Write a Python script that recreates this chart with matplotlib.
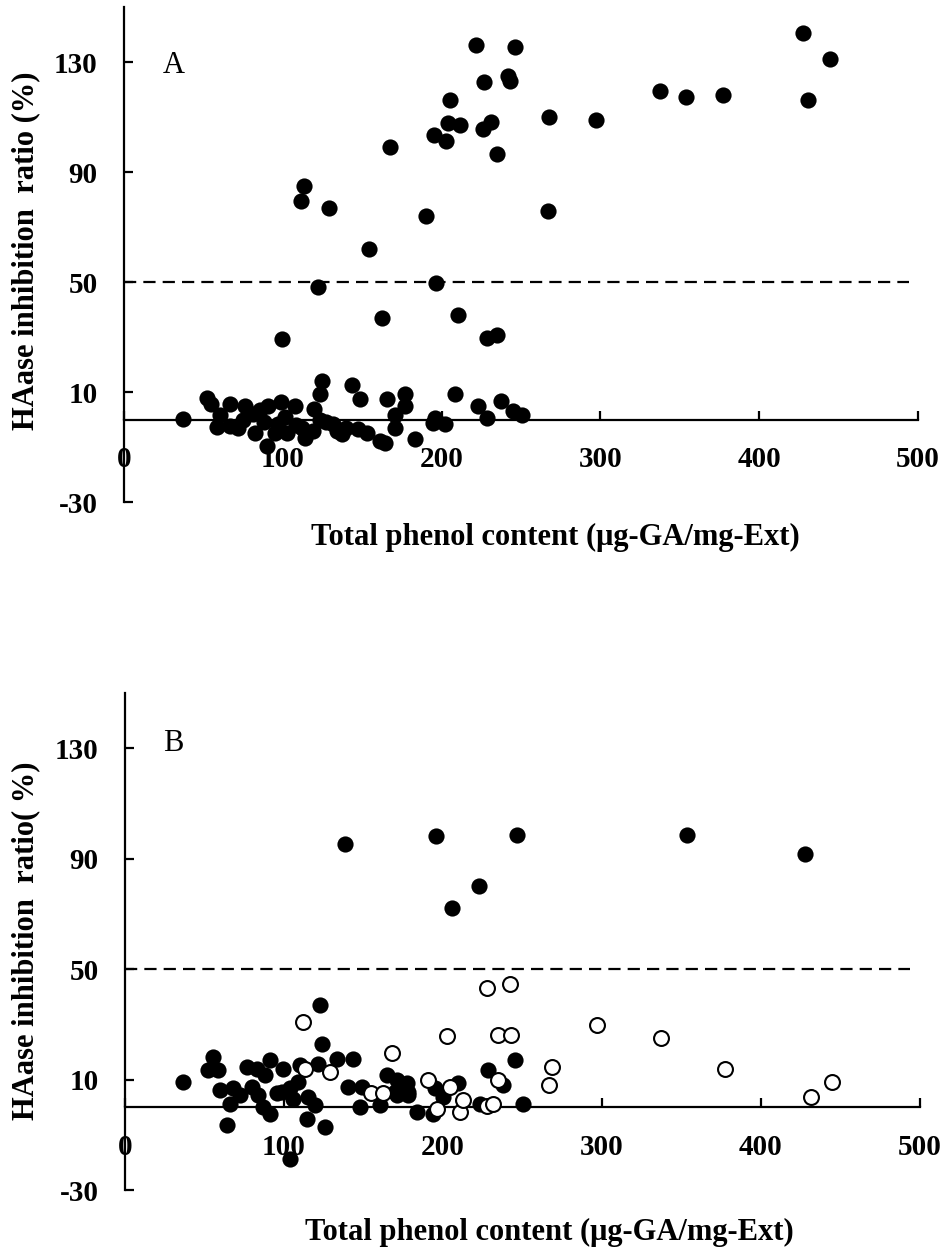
import matplotlib
matplotlib.use('Agg')
import matplotlib.pyplot as plt
import numpy as np

plt.rcParams['font.family'] = ['Liberation Serif', 'DejaVu Serif']
plt.rcParams['axes.unicode_minus'] = False

# ---- Panel A: all extracts ----
a_x = [221.7, 246, 226.7, 242, 243, 205, 267.6, 203.8, 211.6, 230.9, 226.3, 195.2, 203, 234.7,
       167.5, 113.4, 111.7, 129.3, 190, 266.8, 154.3, 122.4, 196.3, 162.3, 210.3, 99.7, 228.4,
       234.7, 297.2, 337.5, 353.9, 377.4, 427.8, 444.6, 430.5,
       37, 52.5, 55, 60.5, 58.5, 67, 66.8, 72, 76.4, 81.4, 82.5, 85.6, 90, 90.9, 99, 97.2, 95,
       102.5, 107.7, 101.4, 114, 119.2, 119.4, 123.4, 124.4, 123.4, 131.8, 137, 143.4, 148.6,
       147.5, 152.8, 161.2, 164.4, 165.4, 170.6, 170.6, 176.9, 176.9, 183.2, 194.8, 202.1,
       195.8, 208.4, 223.1, 228.3, 237.4, 245.2, 250.4, 75, 88, 108, 112, 127, 134, 140]
a_y = [136.2, 135.3, 122.6, 125, 123, 116.2, 110, 108, 107, 108.3, 105.6, 103.6, 101.4, 96.6,
       99, 84.8, 79.5, 77, 74, 76, 62, 48.3, 49.5, 37, 38, 29.3, 29.6,
       30.8, 109, 119.6, 117.1, 118.1, 140.7, 131, 116.2,
       0.2, 8, 5.5, 1.8, -2.6, 5.5, -2.4, -3, 4.8, 2, -4.8, 3.6, -9.5, 4.8, 6.3, -1.8, -4.8,
       -5, 4.8, 1, -6.6, -4.2, 3.9, 9.3, 13.9, 0, -1.8, -5.4, 12.7, 7.5,
       -3.6, -4.8, -7.9, -8.5, 7.5, -3, 1.8, 9.4, 4.8, -7.2, -1.2, -1.8,
       0.6, 9.4, 4.8, 0.6, 6.6, 3, 1.8, 0, -1, -2, -3, -1, -4, -3]

# ---- Panel B: filled and open circles ----
b_fill_x = [138.4, 195.6, 205.5, 222.6, 246.3, 353.6, 427.7,
            36.7, 55.5, 52.4, 58.7, 59.7, 66, 64, 68, 72.3, 76.5, 79.7, 82.8, 83.8, 87, 87.9,
            91.2, 91.2, 95.4, 99.2, 98.5, 103.8, 105.9, 109, 103.8, 110, 115.3, 114.3, 119.5,
            122.6, 123.7, 121.6, 125.8, 133.1, 143.6, 140.5, 148.8, 147.8, 160.4, 164.6, 170.9,
            170.9, 177.2, 178.2, 183.4, 193.9, 195, 200.2, 209.6, 223.3, 228.1, 237.9, 245.3,
            250.1, 170, 178]
b_fill_y = [95.3, 98.2, 72, 80, 98.6, 98.6, 91.7,
            9.2, 18.2, 13.4, 13.4, 6.2, 1.3, -6.5, 6.8, 4.3, 14.6, 7.4, 14, 4.3, 0.1, 11.6,
            17, -2.3, 5, 14, 5.5, 6.8, 3.1, 9.2, -18.6, 15.2, 3.7, -4.1, 0.7,
            37, 23, 15.8, -7.1, 17.6, 17.6, 7.4, 7.4, 0.1, 0.7, 11.6, 9.8,
            4.3, 8.6, 4.3, -1.7, -2.3, 6.8, 3.7, 8.6, 1.3, 13.4, 8, 17,
            1.3, 5.5, 5.5]
b_open_x = [111.8, 113.2, 128.9, 167.7, 154.5, 162, 202.3, 190.8, 204.4, 196, 210.7, 212.3,
            227.5, 242.1, 234.8, 242.8, 234.4, 227.5, 231.6, 268.3, 266.7, 297.1, 337.1, 377.4,
            431.4, 444.5]
b_open_y = [30.9, 13.7, 12.8, 19.7, 5.2, 5.2, 25.7, 9.8, 7.4, -0.5, -1.7, 2.5,
            43, 44.5, 26.1, 26.1, 10, 0.4, 1.3, 14.6, 8.2, 29.7, 25.2, 13.8,
            3.7, 9.2]

y_ticks = [-30, 10, 50, 90, 130]
x_ticks = [0, 100, 200, 300, 400, 500]
xlabel = 'Total phenol content (\u03bcg-GA/mg-Ext)'

fig = plt.figure(figsize=(9.49, 12.52), dpi=100)
axA = fig.add_axes([0.1307, 0.5990, 0.8367, 0.3954])
axB = fig.add_axes([0.1317, 0.0495, 0.8377, 0.3970])

for ax in (axA, axB):
    ax.set_xlim(0, 500)
    ax.set_ylim(-30, 150)
    ax.spines['top'].set_visible(False)
    ax.spines['right'].set_visible(False)
    ax.spines['bottom'].set_position(('data', 0))
    ax.spines['left'].set_linewidth(1.6)
    ax.spines['bottom'].set_linewidth(1.6)
    ax.set_xticks(x_ticks)
    ax.set_yticks(y_ticks)
    ax.tick_params(direction='in', length=6.5, width=1.6, pad=19, labelsize=21)
    for lab in ax.get_xticklabels() + ax.get_yticklabels():
        lab.set_fontweight('bold')
    ax.plot([0, 494], [50, 50], color='black', lw=1.6, dashes=(5.5, 3.2), zorder=1)
    ax.patch.set_alpha(0)

axA.scatter(a_x, a_y, s=136, color='black', linewidths=0, zorder=3, clip_on=False)
axB.scatter(b_fill_x, b_fill_y, s=136, color='black', linewidths=0, zorder=3, clip_on=False)
axB.scatter(b_open_x, b_open_y, s=115, facecolor='white', edgecolor='black',
            linewidths=1.5, zorder=4, clip_on=False)

axA.text(24.5, 126, 'A', fontsize=22, va='baseline')
axB.text(24, 129, 'B', fontsize=22, va='baseline')

fig.text(555 / 949, 1 - 537 / 1252, xlabel, fontsize=22, fontweight='bold', ha='center', va='center')
fig.text(549 / 949, 1 - 1232 / 1252, xlabel, fontsize=22, fontweight='bold', ha='center', va='center')
fig.text(26 / 949, 1 - 251 / 1252, 'HAase inhibition  ratio (%)', fontsize=22, fontweight='bold',
         rotation=90, ha='center', va='center')
fig.text(26 / 949, 1 - 941 / 1252, 'HAase inhibition  ratio( %)', fontsize=22, fontweight='bold',
         rotation=90, ha='center', va='center')

fig.savefig('out.png', dpi=100)
